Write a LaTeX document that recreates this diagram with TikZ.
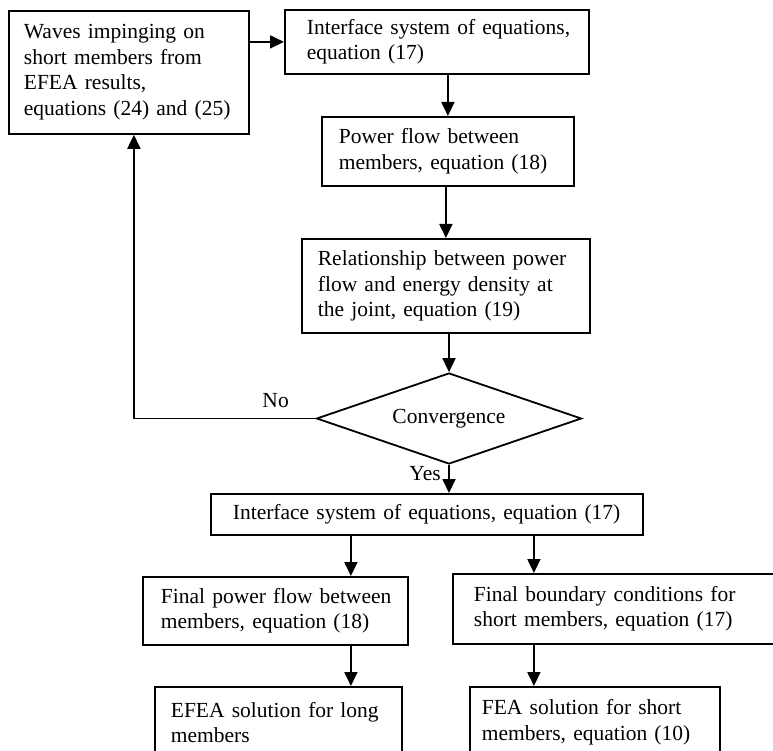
\documentclass[tikz,border=0pt]{standalone}
\usepackage{fontspec}
\setmainfont{Liberation Serif}
\usetikzlibrary{shapes.geometric,arrows.meta}

\begin{document}
\begin{tikzpicture}[x=1pt,y=-1pt,font=\fontsize{21.5}{25.5}\selectfont,
    pad/.style={execute at begin node={\leftskip=#1\relax}}]
      \useasboundingbox (0,0) rectangle (773,751);
      \begin{scope}[every node/.style={rectangle,draw,line width=1.8pt,align=left,anchor=north west,inner sep=0pt}]
        \node[text width=240pt,minimum height=123pt,pad=15pt] (waves) at (8,10) {Waves impinging on\\short members from\\EFEA results,\\equations (24) and (25)};
        \node[text width=304pt,minimum height=64pt,pad=22pt] (int1) at (284,9) {Interface system of equations,\\equation (17)};
        \node[text width=252pt,minimum height=69pt,pad=17pt] (power) at (321,116) {Power flow between\\members, equation (18)};
        \node[text width=288pt,minimum height=94pt,pad=16pt] (rel) at (301,238) {Relationship between power\\flow and energy density at\\the joint, equation (19)};
        \node[text width=432pt,minimum height=41pt,pad=22pt] (int2) at (210,493) {Interface system of equations, equation (17)};
        \node[text width=265pt,minimum height=68pt,pad=18pt] (fpow) at (142,576) {Final power flow between\\members, equation (18)};
        \node[text width=324pt,minimum height=70pt,pad=21pt] (fbnd) at (452,573) {Final boundary conditions for\\short members, equation (17)};
        \node[text width=247pt,minimum height=71pt,pad=16pt] (efea) at (154,686) {EFEA solution for long\\members};
        \node[text width=250pt,minimum height=71pt,pad=12pt] (fea) at (469,686) {FEA solution for short\\members, equation (10)};
      \end{scope}
      \node[diamond,draw,line width=1.8pt,aspect=2.9,minimum width=265pt,minimum height=91pt,inner sep=1pt] (conv) at (449,418.5) {Convergence};
      \begin{scope}[every edge/.style={draw=black,line width=1.8pt,-{Triangle[length=14pt,width=13pt]}}]
        \path ([xshift=-76pt]int2.south) coordinate (a1) ([xshift=107pt]int2.south) coordinate (a2);
        \path (waves.east |- int1.west) edge (int1.west);
        \path (power.north |- int1.south) edge (power.north);
        \path (rel.north |- power.south) edge (rel.north);
        \path (conv.north |- rel.south) edge (conv.north);
        \path (conv.south) edge node[left=4pt,pos=0.31] {Yes} (conv.south |- int2.north);
        \path (a1) edge (a1 |- fpow.north);
        \path (a2) edge (a2 |- fbnd.north);
        \path (a1 |- fpow.south) edge (a1 |- efea.north);
        \path (a2 |- fbnd.south) edge (a2 |- fea.north);
      \end{scope}
      \draw[line width=1.8pt,-{Triangle[length=14pt,width=13pt]}] (conv.west) -| node[above=7pt,pos=0.11] {No} ([xshift=5pt]waves.south);
    \end{tikzpicture}
\end{document}
